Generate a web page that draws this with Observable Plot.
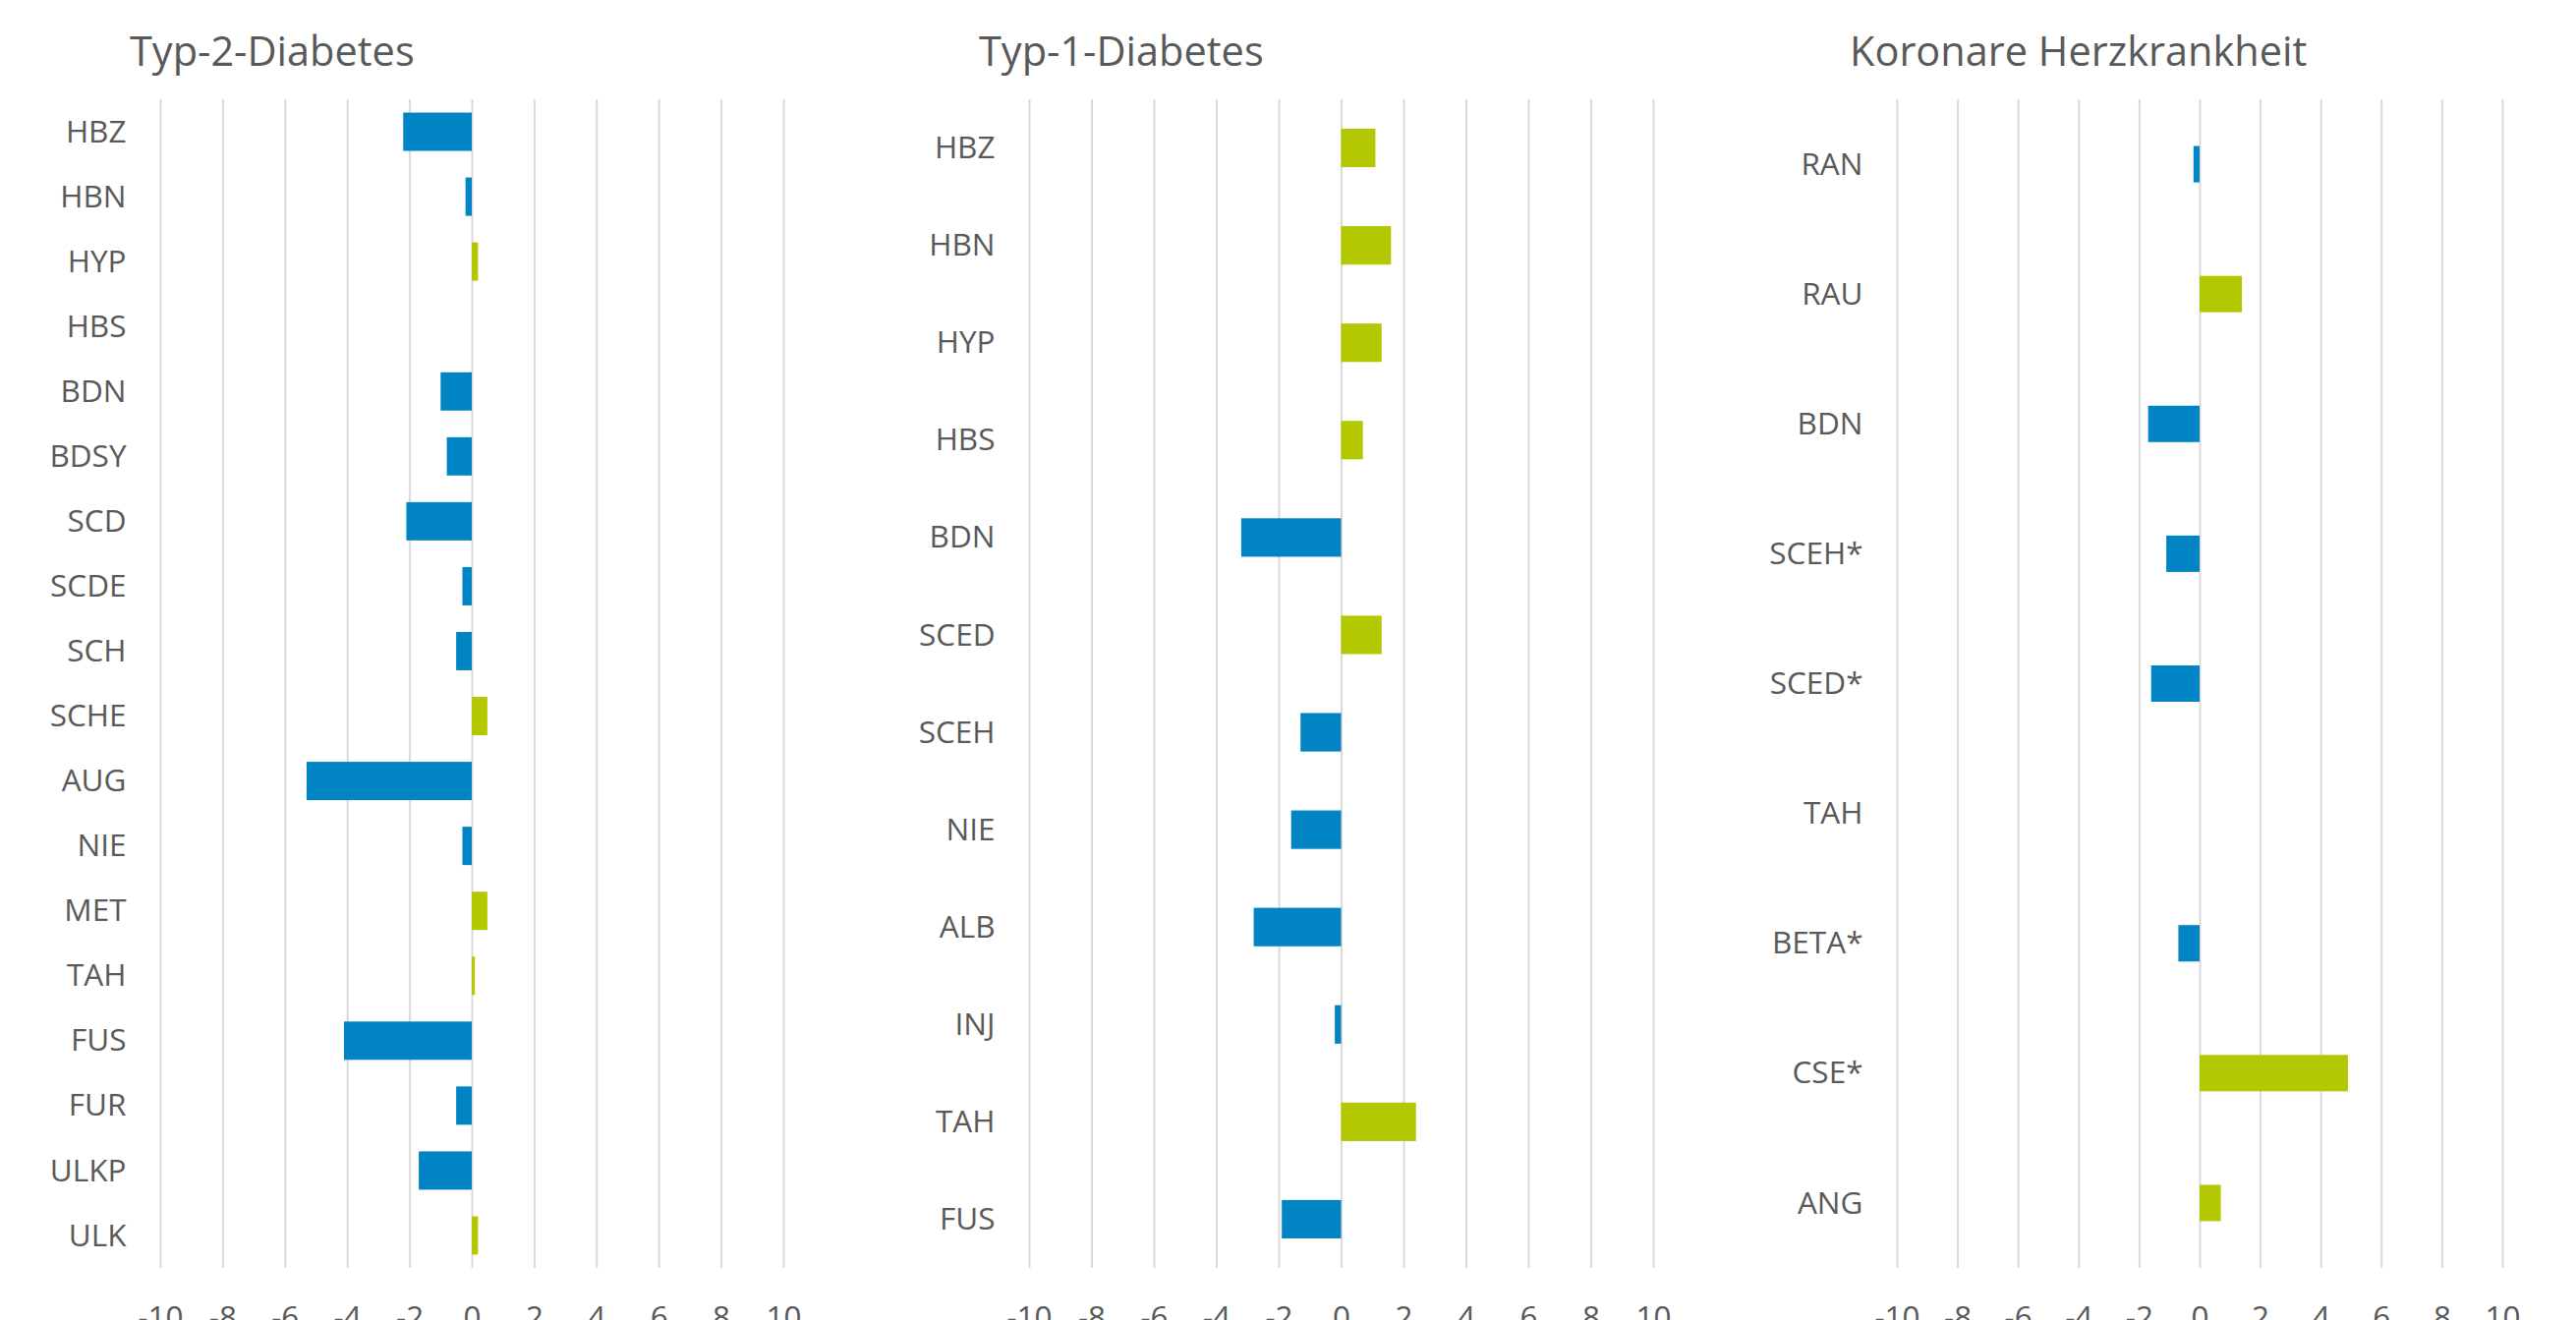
<!DOCTYPE html>
<html>
<head>
<meta charset="utf-8">
<script src="https://cdn.jsdelivr.net/npm/d3@7"></script>
<script src="https://cdn.jsdelivr.net/npm/@observablehq/plot@0.6"></script>
<style>
  html, body { margin: 0; padding: 0; background: #fff; }
  #wrap { position: relative; width: 2621px; height: 1343px; overflow: hidden; background: #fff; }
  .panel { position: absolute; top: 0; }
  .ttl { position: absolute; font-family: "Open Sans", sans-serif; font-size: 41.5px; line-height: 41.5px; color: #595959; white-space: nowrap; }
</style>
</head>
<body>
<div id="wrap"></div>
<script>
// ---- data ----
const xTicks = [-10, -8, -6, -4, -2, 0, 2, 4, 6, 8, 10];

const titles = ["Typ-2-Diabetes", "Typ-1-Diabetes", "Koronare Herzkrankheit"];

const t2Categories = ["HBZ", "HBN", "HYP", "HBS", "BDN", "BDSY", "SCD", "SCDE", "SCH", "SCHE", "AUG", "NIE", "MET", "TAH", "FUS", "FUR", "ULKP", "ULK"];
const t2Values     = [-2.2, -0.2, 0.2, 0, -1.0, -0.8, -2.1, -0.3, -0.5, 0.5, -5.3, -0.3, 0.5, 0.1, -4.1, -0.5, -1.7, 0.2];

const t1Categories = ["HBZ", "HBN", "HYP", "HBS", "BDN", "SCED", "SCEH", "NIE", "ALB", "INJ", "TAH", "FUS"];
const t1Values     = [1.1, 1.6, 1.3, 0.7, -3.2, 1.3, -1.3, -1.6, -2.8, -0.2, 2.4, -1.9];

const khkCategories = ["RAN", "RAU", "BDN", "SCEH*", "SCED*", "TAH", "BETA*", "CSE*", "ANG"];
const khkValues     = [-0.2, 1.4, -1.7, -1.1, -1.6, 0, -0.7, 4.9, 0.7];

const BLUE = "#0084c4";
const GREEN = "#b3c800";
const GRID = "#d9d9d9";
const TEXT = "#595959";

function panel(cats, vals, o) {
  const data = cats.map((c, i) => ({cat: c, value: vals[i]}));
  const H = 1380;
  return Plot.plot({
    width: o.width,
    height: H,
    marginTop: 101,
    marginBottom: H - 1290,
    marginLeft: o.marginLeft,
    marginRight: o.marginRight,
    style: {fontFamily: "'Open Sans', sans-serif", fontSize: "31.5px", color: TEXT, background: "transparent", overflow: "visible"},
    x: {domain: [-10, 10], ticks: xTicks, tickFormat: d => String(d), tickSize: 0, tickPadding: 38, label: null},
    y: {domain: cats, paddingInner: o.pad, paddingOuter: o.pad / 2, round: false, tickSize: 0, tickPadding: 35, label: null},
    marks: [
      Plot.ruleX(xTicks, {stroke: GRID, strokeWidth: 2}),
      Plot.barX(data.filter(d => d.value < 0), {x: "value", y: "cat", fill: BLUE}),
      Plot.barX(data.filter(d => d.value > 0), {x: "value", y: "cat", fill: GREEN})
    ]
  });
}

const wrap = document.getElementById("wrap");
const specs = [
  {cats: t2Categories, vals: t2Values, left: 0, width: 880, marginLeft: 163, marginRight: 83, pad: 0.41, tx: 132},
  {cats: t1Categories, vals: t1Values, left: 880, width: 880, marginLeft: 167, marginRight: 78, pad: 0.605, tx: 996},
  {cats: khkCategories, vals: khkValues, left: 1760, width: 861, marginLeft: 170, marginRight: 75, pad: 0.72, tx: 1882}
];
specs.forEach((s, i) => {
  const div = document.createElement("div");
  div.className = "panel";
  div.style.left = s.left + "px";
  div.appendChild(panel(s.cats, s.vals, s));
  wrap.appendChild(div);
  const t = document.createElement("div");
  t.className = "ttl";
  t.style.left = s.tx + "px";
  t.style.top = "31px";
  t.textContent = titles[i];
  wrap.appendChild(t);
});
</script>
</body>
</html>
